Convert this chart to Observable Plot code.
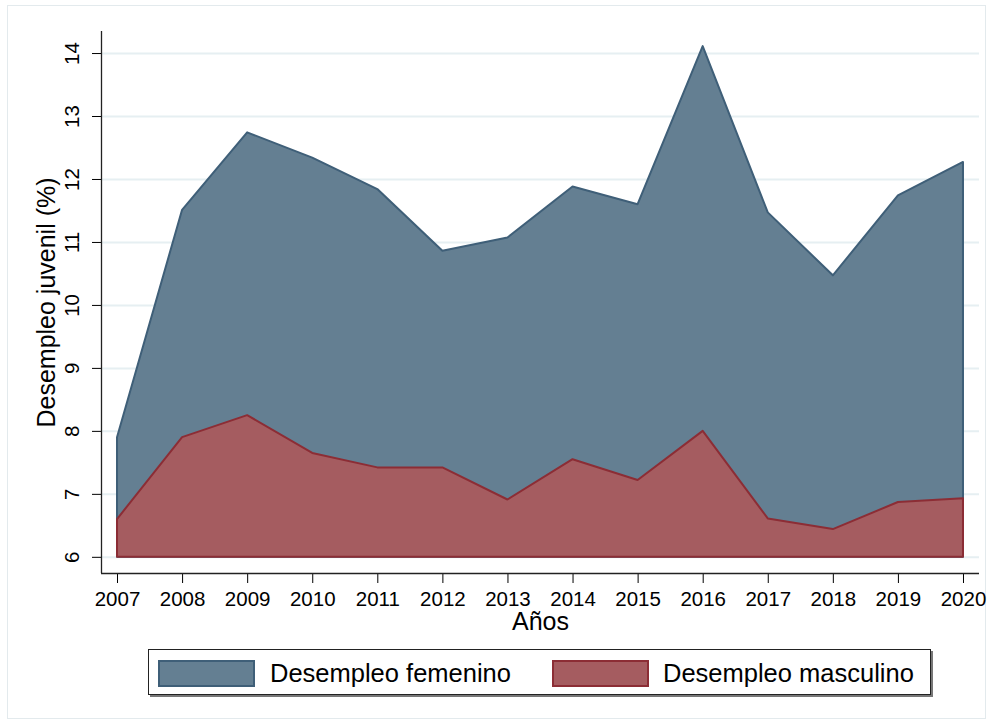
<!DOCTYPE html>
<html>
<head>
<meta charset="utf-8">
<script src="https://cdn.jsdelivr.net/npm/d3@7"></script>
<script src="https://cdn.jsdelivr.net/npm/@observablehq/plot@0.6"></script>
<style>
  html, body { margin: 0; padding: 0; background: #fff; }
  #wrap { position: relative; width: 993px; height: 726px; font-family: "Liberation Sans", Arial, sans-serif; color: #000; }
  #border { position: absolute; left: 7px; top: 5px; width: 979px; height: 714px; border: 1px solid #e3eaed; box-sizing: border-box; }
  #chart { position: absolute; left: 0; top: 0; }
  #legend { position: absolute; left: 148px; top: 649px; width: 783px; height: 46px; border: 1px solid #222; box-sizing: border-box; box-shadow: 2px 2px 0 #777; background: #fff; }
  .sw { position: absolute; top: 10px; width: 97px; height: 27px; box-sizing: border-box; border: 2px solid; }
  .lab { position: absolute; top: 9px; font-size: 25.5px; line-height: 28px; white-space: nowrap; }
</style>
</head>
<body>
<div id="wrap">
  <div id="border"></div>
  <div id="chart"></div>
  <div id="legend"></div>
</div>
<script>
const years = [2007, 2008, 2009, 2010, 2011, 2012, 2013, 2014, 2015, 2016, 2017, 2018, 2019, 2020];
const female = [7.90, 11.51, 12.74, 12.34, 11.84, 10.86, 11.07, 11.88, 11.60, 14.11, 11.47, 10.47, 11.74, 12.27];
const male = [6.60, 7.90, 8.25, 7.65, 7.42, 7.42, 6.91, 7.55, 7.22, 8.00, 6.61, 6.44, 6.87, 6.93];
const yTicks = [6, 7, 8, 9, 10, 11, 12, 13, 14];
const seriesNames = ["Desempleo femenino", "Desempleo masculino"];
const baseValue = 6;
const xTitle = "Años";
const yTitle = "Desempleo juvenil (%)";

const blueFill = "#647f92", blueLine = "#3f5f78";
const redFill = "#a55c60", redLine = "#8c2d35";

const rows = years.map((y, i) => ({year: y, female: female[i], male: male[i]}));
const xDomain = [2006.754, 2020.246];
const yDomain = [5.743, 14.35];

const chart = Plot.plot({
  width: 993,
  height: 640,
  marginLeft: 101,
  marginRight: 14,
  marginTop: 31,
  marginBottom: 67,
  style: {fontFamily: "'Liberation Sans', Arial, sans-serif", fontSize: "20.5px", background: "transparent", color: "#000"},
  x: {domain: xDomain, ticks: years, tickSize: 10, tickPadding: 8, tickFormat: d => String(d), label: null},
  y: {domain: yDomain, ticks: yTicks, tickSize: 9, tickPadding: 2, tickFormat: () => "", label: null},
  marks: [
    Plot.ruleY(yTicks, {stroke: "#e6eff2", strokeOpacity: 1, strokeWidth: 2}),
    Plot.areaY(rows, {x: "year", y1: () => baseValue, y2: "female", fill: blueFill, stroke: blueLine, strokeWidth: 2}),
    Plot.areaY(rows, {x: "year", y1: () => baseValue, y2: "male", fill: redFill, stroke: redLine, strokeWidth: 2}),
    Plot.ruleX([xDomain[0]], {stroke: "#222", strokeWidth: 1.3}),
    Plot.ruleY([yDomain[0]], {stroke: "#222", strokeWidth: 1.3}),
    Plot.text(yTicks, {y: d => d, text: d => String(d), frameAnchor: "left", dx: -29, rotate: -90, textAnchor: "middle", lineAnchor: "middle", fontSize: 20.5, fill: "#000"}),
    Plot.text([xTitle], {text: d => d, frameAnchor: "bottom", dy: 39, lineAnchor: "top", textAnchor: "middle", fontSize: 25, fill: "#000"}),
    Plot.text([yTitle], {text: d => d, frameAnchor: "left", dx: -55, rotate: -90, textAnchor: "middle", lineAnchor: "middle", fontSize: 25, fill: "#000"})
  ]
});
document.getElementById("chart").appendChild(chart);

const legend = document.getElementById("legend");
const items = [
  {name: seriesNames[0], fill: blueFill, line: blueLine, sx: 9, tx: 121},
  {name: seriesNames[1], fill: redFill, line: redLine, sx: 403, tx: 514}
];
for (const it of items) {
  const sw = document.createElement("div");
  sw.className = "sw";
  sw.style.left = it.sx + "px";
  sw.style.background = it.fill;
  sw.style.borderColor = it.line;
  legend.appendChild(sw);
  const lb = document.createElement("div");
  lb.className = "lab";
  lb.style.left = it.tx + "px";
  lb.textContent = it.name;
  legend.appendChild(lb);
}
</script>
</body>
</html>
